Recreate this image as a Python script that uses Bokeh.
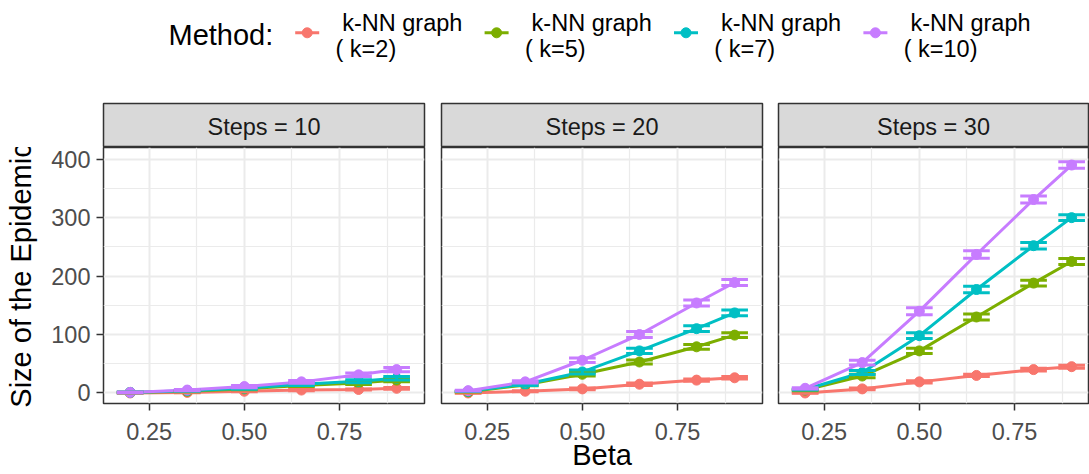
from bokeh.plotting import figure
from bokeh.models import Range1d, FixedTicker, NumeralTickFormatter
from bokeh.layouts import column, row
from bokeh.embed import file_html
from bokeh.resources import INLINE
from bokeh.core.properties import value

# ---------------- data ----------------
beta = [0.2, 0.35, 0.5, 0.65, 0.8, 0.9]
steps = [10, 20, 30]
legend_title = "Method:"
method_labels = ["k-NN graph\n( k=2)", "k-NN graph\n( k=5)", "k-NN graph\n( k=7)", "k-NN graph\n( k=10)"]
method_colors = ["#F8766D", "#7CAE00", "#00BFC4", "#C77CFF"]
x_ticks = [0.25, 0.5, 0.75]
x_minor = [0.125, 0.375, 0.625, 0.875]
y_ticks = [0, 100, 200, 300, 400]
y_minor = [50, 150, 250, 350]

# Steps = 10
k2_s10 = [0, 1, 3, 5, 6, 8]
k5_s10 = [1, 3, 7, 13, 17, 22]
k7_s10 = [1, 4, 8, 15, 20, 25]
k10_s10 = [1, 5, 11, 19, 31, 40]
k2_s10_err = [0.3, 0.5, 1, 1, 1, 1.5]
k5_s10_err = [0.5, 1, 1.5, 2, 2.5, 3]
k7_s10_err = [0.5, 1, 1.5, 2, 2.5, 3]
k10_s10_err = [0.5, 1, 2, 2.5, 3, 3.5]

# Steps = 20
k2_s20 = [0, 3, 7, 15, 22, 26]
k5_s20 = [2, 14, 32, 53, 79, 99]
k7_s20 = [3, 15, 36, 72, 110, 137]
k10_s20 = [4, 19, 56, 100, 154, 189]
k2_s20_err = [0.5, 1, 1.5, 2, 2, 2]
k5_s20_err = [0.5, 1.5, 3, 3.5, 4, 4]
k7_s20_err = [0.5, 2, 3.5, 4.5, 5, 5]
k10_s20_err = [0.5, 2, 4, 5, 5, 5]

# Steps = 30
k2_s30 = [0, 7, 19, 30, 40, 45]
k5_s30 = [5, 29, 72, 130, 188, 225]
k7_s30 = [6, 35, 98, 177, 252, 300]
k10_s30 = [8, 52, 140, 237, 331, 390]
k2_s30_err = [0.5, 1.5, 2, 2, 2.5, 2.5]
k5_s30_err = [1, 3, 4.5, 5, 5, 5]
k7_s30_err = [1, 3.5, 5, 5.5, 5.5, 5]
k10_s30_err = [1, 4, 6, 6.5, 6, 5.5]

series = {
    10: ([k2_s10, k5_s10, k7_s10, k10_s10], [k2_s10_err, k5_s10_err, k7_s10_err, k10_s10_err]),
    20: ([k2_s20, k5_s20, k7_s20, k10_s20], [k2_s20_err, k5_s20_err, k7_s20_err, k10_s20_err]),
    30: ([k2_s30, k5_s30, k7_s30, k10_s30], [k2_s30_err, k5_s30_err, k7_s30_err, k10_s30_err]),
}

# ---------------- style ----------------
FONT = "Liberation Sans"
SMALL = "23.5px"
BIG = "29px"
CAP_HALF = 0.035
X_START = 0.13
PX_PER_X = 380.7
FRAME_H = 256
PANEL_H = 327
STRIP_H = 45
LEGEND_H = 102
TOTAL_W = 1089
LW = 3

# left border, frame width, right border for each facet
geom = [(103, 321, 8), (9, 321, 8), (8, 310, 1)]


def make_panel(i, s):
    ml, fw, mr = geom[i]
    x_end = X_START + fw / PX_PER_X
    p = figure(width=ml + fw + mr, height=PANEL_H,
               x_range=Range1d(X_START, x_end), y_range=Range1d(-18, 420),
               output_backend="svg", toolbar_location=None,
               min_border_left=ml, min_border_right=mr,
               min_border_top=0, min_border_bottom=PANEL_H - FRAME_H,
               background_fill_color="white", border_fill_color="white")
    p.outline_line_color = "#333333"
    p.outline_line_width = 1.5
    p.xaxis.ticker = FixedTicker(ticks=x_ticks, minor_ticks=x_minor)
    p.yaxis.ticker = FixedTicker(ticks=y_ticks, minor_ticks=y_minor)
    p.xaxis.formatter = NumeralTickFormatter(format="0.00")
    for ax in p.axis:
        ax.axis_line_color = None
        ax.major_tick_line_color = "#333333"
        ax.major_tick_line_width = 1.5
        ax.major_tick_out = 7
        ax.major_tick_in = 0
        ax.minor_tick_line_color = None
        ax.major_label_text_font = FONT
        ax.major_label_text_font_size = SMALL
        ax.major_label_text_color = "#4D4D4D"
        ax.axis_label_text_font = FONT
        ax.axis_label_text_font_size = BIG
        ax.axis_label_text_font_style = "normal"
        ax.axis_label_text_color = "#000000"
    p.xaxis.major_label_standoff = 12
    p.yaxis.major_label_standoff = 6
    p.grid.grid_line_color = "#EBEBEB"
    p.grid.grid_line_width = 2
    p.grid.minor_grid_line_color = "#EBEBEB"
    p.grid.minor_grid_line_width = 1.2
    if i == 0:
        p.yaxis.axis_label = "Size of the Epidemic"
        p.yaxis.axis_label_standoff = 11
    else:
        p.yaxis.visible = False
    if i == 1:
        p.xaxis.axis_label = "Beta"
        p.xaxis.axis_label_standoff = -4

    vals_list, errs_list = series[s]
    for vals, col in zip(vals_list, method_colors):
        p.line(beta, vals, line_color=col, line_width=LW)
    for vals, col in zip(vals_list, method_colors):
        p.scatter(beta, vals, size=10, fill_color=col, line_color=col)
    for vals, errs, col in zip(vals_list, errs_list, method_colors):
        lo = [v - e for v, e in zip(vals, errs)]
        hi = [v + e for v, e in zip(vals, errs)]
        left = [b - CAP_HALF for b in beta]
        right = [b + CAP_HALF for b in beta]
        p.segment(x0=beta, y0=lo, x1=beta, y1=hi, line_color=col, line_width=LW)
        p.segment(x0=left, y0=hi, x1=right, y1=hi, line_color=col, line_width=LW)
        p.segment(x0=left, y0=lo, x1=right, y1=lo, line_color=col, line_width=LW)
    return p


def make_strip(i, s):
    ml, fw, mr = geom[i]
    st = figure(width=ml + fw + mr, height=STRIP_H,
                x_range=Range1d(0, fw), y_range=Range1d(0, STRIP_H - 1),
                output_backend="svg", toolbar_location=None,
                x_axis_type=None, y_axis_type=None,
                min_border_left=ml, min_border_right=mr,
                min_border_top=1, min_border_bottom=0,
                background_fill_color="#D9D9D9", border_fill_color="white")
    st.grid.visible = False
    st.outline_line_color = "#333333"
    st.outline_line_width = 1.5
    st.text(x=[fw / 2], y=[21], text=[f"Steps = {s}"], text_align="center",
            text_baseline="alphabetic", text_font=value(FONT),
            text_font_size=value(SMALL), text_color="#1A1A1A")
    return st


# ---------------- legend ----------------
leg = figure(width=TOTAL_W, height=LEGEND_H,
             x_range=Range1d(0, TOTAL_W), y_range=Range1d(LEGEND_H, 0),
             output_backend="svg", toolbar_location=None,
             x_axis_type=None, y_axis_type=None,
             min_border=0, background_fill_color="white", border_fill_color="white")
leg.grid.visible = False
leg.outline_line_color = None
leg.text(x=[168], y=[34.7], text=[legend_title], text_font=value(FONT),
         text_font_size=value(BIG), text_baseline="alphabetic", text_color="#000000")
KEY_X0, KEY_DX, KEY_Y = 306.7, 189.4, 32.3
for j, (lab, col) in enumerate(zip(method_labels, method_colors)):
    cx = KEY_X0 + j * KEY_DX
    leg.segment(x0=[cx - 12], y0=[KEY_Y], x1=[cx + 12], y1=[KEY_Y], line_color=col, line_width=LW)
    leg.scatter([cx], [KEY_Y], size=10, fill_color=col, line_color=col)
    line1, line2 = lab.split("\n")
    leg.text(x=[cx + 35], y=[22.8], text=[line1], text_font=value(FONT),
             text_font_size=value(SMALL), text_baseline="alphabetic", text_color="#000000")
    leg.text(x=[cx + 28.3], y=[48], text=[line2], text_font=value(FONT),
             text_font_size=value(SMALL), text_baseline="alphabetic", text_color="#000000")

cols = [column(make_strip(i, s), make_panel(i, s)) for i, s in enumerate(steps)]
layout = column(leg, row(*cols))

open("out.html", "w").write(file_html(layout, INLINE))
